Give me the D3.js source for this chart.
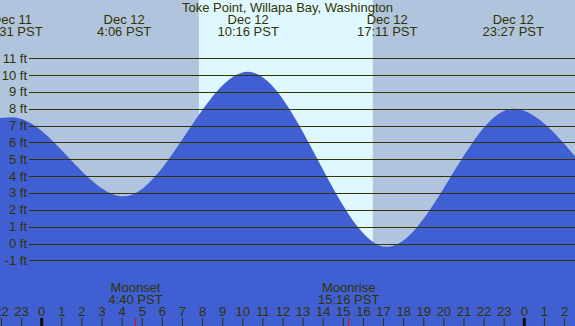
<!DOCTYPE html>
<html>
<head>
<meta charset="utf-8">
<script src="https://cdn.jsdelivr.net/npm/d3@7"></script>
<style>
  body { margin: 0; }
  svg { display: block; font-family: "Liberation Sans", Arial, sans-serif; }
</style>
</head>
<body>
<div id="chart"></div>
<script>
// Data
const title = "Toke Point, Willapa Bay, Washington";

// tide extremes (plus the level read at each edge of the frame)
const tideTimes = [
  "2023-12-11 21:55", "2023-12-11 22:31", "2023-12-12 04:06", "2023-12-12 10:16",
  "2023-12-12 17:11", "2023-12-12 23:27", "2023-12-13 02:35"
];
const tideHeights = [7.45, 7.5, 2.8, 10.2, -0.2, 8.0, 5.1];
const tideLabelled = [false, true, true, true, true, true, false];

const sunTimes = ["2023-12-12 07:49", "2023-12-12 16:28"]; // sunrise, sunset

const moonTimes = ["2023-12-12 04:40", "2023-12-12 15:16"];
const moonNames = ["Moonset", "Moonrise"];

const ftTicks = [-1, 0, 1, 2, 3, 4, 5, 6, 7, 8, 9, 10, 11];

const parseTime = d3.timeParse("%Y-%m-%d %H:%M");
const fmtDay = d3.timeFormat("%b %-d");
const fmtTime = d3.timeFormat("%-H:%M");

const tide = tideTimes.map((t, i) => ({
  date: parseTime(t),
  ft: tideHeights[i],
  label: tideLabelled[i]
}));

// Dimensions
const width = 575;
const height = 326;
const ink = "#333300";

const svg = d3.select("#chart")
  .append("svg")
  .attr("width", width)
  .attr("height", height);

// Scales
const xScale = d3.scaleTime()
  .domain([parseTime("2023-12-12 00:00"), parseTime("2023-12-13 00:00")])
  .range([41.7, 524.3]);

const yScale = d3.scaleLinear()
  .domain([0, 11])
  .range([243.5, 58.3]);

// Night / day background
svg.append("rect")
  .attr("width", width)
  .attr("height", height)
  .attr("fill", "#b0c4de");

const sun = sunTimes.map(parseTime);
svg.append("rect")
  .attr("x", xScale(sun[0]))
  .attr("width", xScale(sun[1]) - xScale(sun[0]))
  .attr("height", height)
  .attr("fill", "#dff8ff");

// Water
const area = d3.area()
  .x((d) => xScale(d.date))
  .y0(height)
  .y1((d) => yScale(d.ft))
  .curve(d3.curveMonotoneX);

svg.append("path")
  .datum(tide)
  .attr("d", area)
  .attr("fill", "#405fd3");

// Grid lines with ft labels
const grid = svg.append("g");
grid.selectAll("line")
  .data(ftTicks)
  .join("line")
  .attr("x1", 29)
  .attr("x2", width)
  .attr("y1", (d) => Math.round(yScale(d)) + 0.5)
  .attr("y2", (d) => Math.round(yScale(d)) + 0.5)
  .attr("stroke", ink)
  .attr("stroke-width", 1);

grid.selectAll("text")
  .data(ftTicks)
  .join("text")
  .attr("x", 27)
  .attr("y", (d) => yScale(d) + 4.5)
  .attr("text-anchor", "end")
  .attr("font-size", 13)
  .attr("fill", ink)
  .text((d) => `${d} ft`);

// Title
svg.append("text")
  .attr("x", width / 2)
  .attr("y", 11.5)
  .attr("text-anchor", "middle")
  .attr("font-size", 13)
  .attr("fill", ink)
  .text(title);

// Tide labels
const tideLabels = svg.append("g")
  .selectAll("g")
  .data(tide.filter((d) => d.label))
  .join("g")
  .attr("transform", (d) => `translate(${xScale(d.date)},0)`)
  .attr("text-anchor", "middle")
  .attr("font-size", 13)
  .attr("fill", ink);

tideLabels.append("text").attr("y", 24).text((d) => fmtDay(d.date));
tideLabels.append("text").attr("y", 36).text((d) => `${fmtTime(d.date)} PST`);

// Moon labels and marks
const moon = moonTimes.map((t, i) => ({ date: parseTime(t), name: moonNames[i] }));
const moonLabels = svg.append("g")
  .selectAll("g")
  .data(moon)
  .join("g")
  .attr("transform", (d) => `translate(${xScale(d.date)},0)`)
  .attr("text-anchor", "middle")
  .attr("font-size", 13)
  .attr("fill", ink);

moonLabels.append("text").attr("y", 291.5).text((d) => d.name);
moonLabels.append("text").attr("y", 303.5).text((d) => `${fmtTime(d.date)} PST`);
moonLabels.append("line")
  .attr("x1", 0).attr("x2", 0)
  .attr("y1", 318).attr("y2", height)
  .attr("stroke", "#ff0000")
  .attr("stroke-width", 1);

// Hour axis
const hours = d3.timeHour.range(parseTime("2023-12-11 22:00"), parseTime("2023-12-13 03:00"));
const hourAxis = svg.append("g")
  .selectAll("g")
  .data(hours)
  .join("g")
  .attr("transform", (d) => `translate(${xScale(d)},0)`);

hourAxis.append("line")
  .attr("y1", 318)
  .attr("y2", height)
  .attr("stroke", (d) => (d.getHours() === 0 ? "#111100" : ink))
  .attr("stroke-width", (d) => (d.getHours() === 0 ? 3 : 1));

hourAxis.append("text")
  .attr("y", 316)
  .attr("text-anchor", "middle")
  .attr("font-size", 13)
  .attr("fill", ink)
  .text((d) => d.getHours());
</script>
</body>
</html>
